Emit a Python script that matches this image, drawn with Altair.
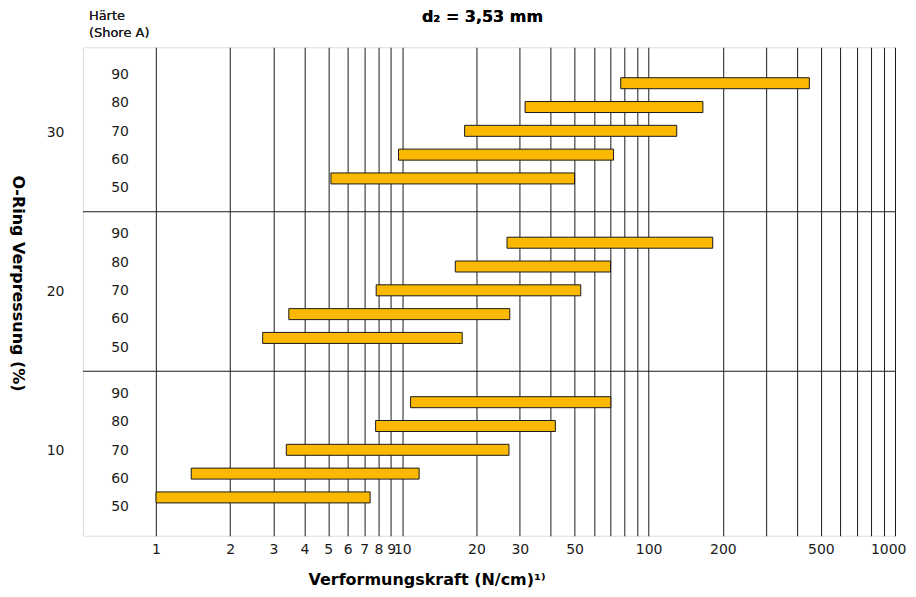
import json
import altair as alt
import pandas as pd

# ---------------- data ----------------
groups = ["30", "20", "10"]            # O-Ring Verpressung (%), top to bottom
hardness = [90, 80, 70, 60, 50]        # Härte (Shore A), top to bottom in each group

start_30 = [77, 31.5, 17.9, 9.65, 5.13]
end_30 = [449, 166, 130, 72, 50]
start_20 = [26.6, 16.4, 7.83, 3.46, 2.71]
end_20 = [182, 70, 53, 27.3, 17.5]
start_10 = [10.8, 7.79, 3.38, 1.39, 1.0]
end_10 = [70.2, 41.8, 27.1, 11.7, 7.4]

grid_values = [1, 2, 3, 4, 5, 6, 7, 8, 9, 10, 20, 30, 40, 50, 60, 70, 80, 90,
               100, 200, 300, 400, 500, 600, 700, 800, 900, 1000]
label_values = [1, 2, 3, 4, 5, 6, 7, 8, 9, 10, 20, 30, 50, 100, 200, 500, 1000]

title_text = "d₂ = 3,53 mm"
header_lines = ["Härte", "(Shore A)"]

starts = {"30": start_30, "20": start_20, "10": start_10}
ends = {"30": end_30, "20": end_20, "10": end_10}

# ---------------- layout helpers ----------------
GH = 6.7            # height of one group in row units
BAR_BASE = 1.4      # row position of the 50 bar inside a group
LAB_BASE = 0.99     # row position of the 50 label inside a group
LAB_STEP = 1.19
LABEL_X = 0.715     # x position (data units) of hardness labels
FONT = "DejaVu Sans"
INK = "#1a1a1a"

rows = []
for g in groups:
    gi = len(groups) - 1 - groups.index(g)   # 0 for bottom group
    for h, s, e in zip(hardness, starts[g], ends[g]):
        slot = (h - 50) / 10
        rows.append({
            "group": g, "haerte": str(h), "start": s, "end": e,
            "y": gi * GH + BAR_BASE + slot,
            "ylab": gi * GH + LAB_BASE + slot * LAB_STEP,
            "lx": LABEL_X,
        })
df = pd.DataFrame(rows)

centers = [(len(groups) - 1 - i) * GH + GH / 2 for i in range(len(groups))]
boundaries = pd.DataFrame({"yb": [GH * k for k in range(1, len(groups))]})

# label expression for the group axis
expr = "''"
for i, g in enumerate(groups):
    c = centers[i]
    expr = f"abs(datum.value - {c}) < 0.5 ? '{g}' : ({expr})"

xscale = alt.Scale(type="log", domain=[0.505, 1000], nice=False)
yscale = alt.Scale(domain=[0, GH * len(groups)], nice=False, zero=False)

xaxis = alt.Axis(
    values=grid_values,
    labelExpr=f"indexof({json.dumps(label_values)}, datum.value) >= 0 ? '' + datum.value : ''",
    grid=True, gridColor=INK, gridWidth=1, gridOpacity=1,
    ticks=False, tickSize=0, domain=False,
    labelFont=FONT, labelFontSize=14, labelColor=INK, labelPadding=7,
    labelOverlap=False, labelFlush=True, labelFlushOffset=11, labelBound=False,
    title="Verformungskraft (N/cm)¹⁾", titleFont=FONT, titleFontSize=16,
    titleFontWeight="bold", titleColor="#000", titleX=344, titleY=44,
    titleAlign="center", titleBaseline="middle",
)
yaxis = alt.Axis(
    values=centers, labelExpr=expr,
    grid=False, ticks=False, tickSize=0, domain=False,
    labelFont=FONT, labelFontSize=14, labelColor=INK, labelPadding=19,
    title="O-Ring Verpressung (%)", titleFont=FONT, titleFontSize=16,
    titleFontWeight="bold", titleColor="#000", titleAngle=90,
    titleX=-65, titleY=236, titleAlign="center", titleBaseline="middle",
)

base = alt.Chart(df)

bars = base.mark_bar(size=11, color="#FBB800", stroke=INK, strokeWidth=1).encode(
    x=alt.X("start:Q", scale=xscale, axis=xaxis),
    x2="end:Q",
    y=alt.Y("y:Q", scale=yscale, axis=yaxis),
)

labels = base.mark_text(font=FONT, fontSize=14, color=INK, align="center",
                        baseline="middle").encode(
    x=alt.X("lx:Q", scale=xscale),
    y=alt.Y("ylab:Q", scale=yscale),
    text="haerte:N",
)

dividers = alt.Chart(boundaries).mark_rule(color=INK, strokeWidth=1.2).encode(
    y=alt.Y("yb:Q", scale=yscale)
)

head1 = alt.Chart(boundaries).mark_text(
    text=header_lines[0], font=FONT, fontSize=13, color=INK, align="left",
    baseline="alphabetic").encode(x=alt.value(6), y=alt.value(-27))
head2 = alt.Chart(boundaries).mark_text(
    text=header_lines[1], font=FONT, fontSize=13, color=INK, align="left",
    baseline="alphabetic").encode(x=alt.value(6), y=alt.value(-10))

title = alt.Chart(boundaries).mark_text(
    text=title_text, font=FONT, fontSize=16, fontWeight="bold", color="#000",
    align="center", baseline="alphabetic").encode(x=alt.value(400), y=alt.value(-25.5))

chart = alt.layer(dividers, bars, labels, head1, head2, title).properties(
    width=813, height=489,
    autosize=alt.AutoSizeParams(type="none"),
    padding={"left": 75, "top": 39, "right": 13, "bottom": 56},
).configure_view(stroke=INK, strokeWidth=1.2).configure(background="white")

chart.save("out.html", embed_options={"renderer": "svg", "actions": False})
